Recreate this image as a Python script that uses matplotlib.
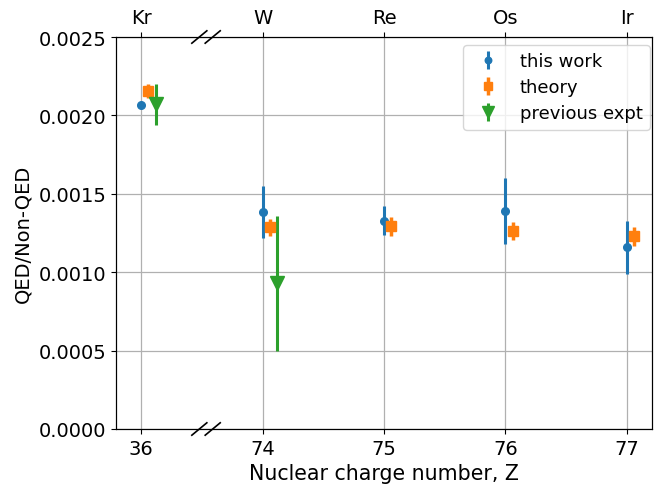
import matplotlib
matplotlib.use('Agg')
import matplotlib.pyplot as plt
import numpy as np

# ---- data ----
Z_labels = ['36', '74', '75', '76', '77']
elements = ['Kr', 'W', 'Re', 'Os', 'Ir']
this_work = [0.002069, 0.001384, 0.001329, 0.001392, 0.001158]
this_work_err = [0.00001, 0.000163, 0.000094, 0.00021, 0.00017]
theory = [0.002157, 0.001288, 0.001293, 0.001261, 0.00123]
theory_err = [0.000045, 0.000054, 0.00006, 0.000057, 0.00006]
prev_index = [0, 1]
prev = [0.00207, 0.00093]
prev_err = [0.00013, 0.00043]

W, H = 654, 489
fig = plt.figure(figsize=(W / 100, H / 100), dpi=100)
ax = fig.add_axes([116 / W, (H - 430) / H, (652 - 116) / W, (430 - 38) / H])

pos = np.arange(len(Z_labels))
ax.errorbar(pos, this_work, yerr=this_work_err, fmt='o', color='#1f77b4',
            ms=5.5, elinewidth=2.2, label='this work', zorder=3)
ax.errorbar(pos + 0.06, theory, yerr=theory_err, fmt='s', color='#ff7f0e',
            ms=7, elinewidth=2.5, label='theory', zorder=3)
ax.errorbar(np.array(prev_index) + 0.12, prev, yerr=prev_err, fmt='v',
            color='#2ca02c', ms=10, elinewidth=2.2, label='previous expt', zorder=3)

ax.set_xlim(-0.206, 4.206)
ax.set_ylim(0, 0.0025)
ax.set_xticks(pos)
ax.set_xticklabels(Z_labels)
ax.set_yticks([0, 0.0005, 0.001, 0.0015, 0.002, 0.0025])
ax.set_yticklabels(['0.0000', '0.0005', '0.0010', '0.0015', '0.0020', '0.0025'])
ax.tick_params(labelsize=14)
ax.grid(True, color='#b0b0b0', linewidth=0.9)
ax.set_axisbelow(True)
ax.set_xlabel('Nuclear charge number, Z', fontsize=14.8)
ax.set_ylabel('QED/Non-QED', fontsize=14)

ax2 = ax.twiny()
ax2.set_xlim(ax.get_xlim())
ax2.set_xticks(pos)
ax2.set_xticklabels(elements)
ax2.tick_params(labelsize=14)

leg = ax.legend(loc='upper right', bbox_to_anchor=((650 - 116) / 536, (430 - 46) / 392),
                borderaxespad=0, fontsize=13, borderpad=0.4, handlelength=2.0,
                handletextpad=0.75, labelspacing=0.45, markerscale=0.85)

# break marks
fig.canvas.draw()
to_ax = ax.transData + ax.transAxes.inverted()
dx, dy = 7.5 / 536, 6.2 / 392
for xc in [0.48, 0.59]:
    xa = to_ax.transform((xc, 0))[0]
    for ya in [0, 1]:
        ax.plot([xa - dx, xa + dx], [ya - dy, ya + dy], transform=ax.transAxes,
                color='k', lw=1.2, clip_on=False, zorder=5)

fig.savefig('out.png', dpi=100)
